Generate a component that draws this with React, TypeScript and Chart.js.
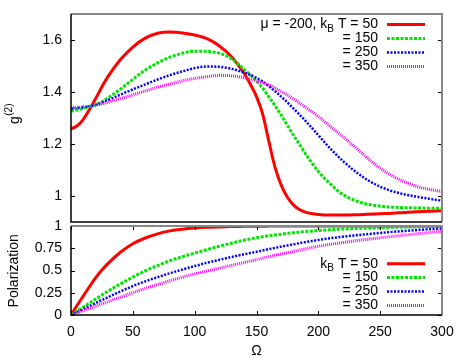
import React, { useEffect, useRef } from "react";
import { Chart, registerables } from "chart.js";
Chart.register(...registerables);

const omega = [0,5,10,15,20,25,30,40,50,60,70,80,90,100,110,120,130,140,145,150,155,160,165,170,175,180,185,190,200,210,220,230,240,250,260,270,280,290,300];

const g2T50 = [1.258,1.27,1.295,1.333,1.375,1.42,1.46,1.525,1.573,1.607,1.626,1.631,1.627,1.619,1.605,1.577,1.535,1.472,1.43,1.382,1.315,1.21,1.11,1.042,0.995,0.965,0.947,0.937,0.929,0.927,0.927,0.928,0.93,0.932,0.934,0.937,0.939,0.941,0.943];
const g2T150 = [1.327,1.331,1.337,1.344,1.352,1.362,1.378,1.411,1.449,1.484,1.512,1.534,1.549,1.557,1.556,1.549,1.527,1.487,1.466,1.442,1.415,1.381,1.347,1.311,1.272,1.233,1.197,1.16,1.094,1.045,1.005,0.982,0.968,0.961,0.957,0.955,0.954,0.953,0.953];
const g2T250 = [1.336,1.338,1.341,1.345,1.351,1.359,1.369,1.39,1.41,1.429,1.448,1.465,1.479,1.492,1.498,1.497,1.489,1.475,1.466,1.454,1.44,1.422,1.403,1.382,1.36,1.336,1.312,1.287,1.234,1.181,1.134,1.094,1.061,1.036,1.018,1.006,0.997,0.989,0.982];
const g2T350 = [1.34,1.341,1.343,1.345,1.349,1.354,1.36,1.375,1.389,1.404,1.418,1.431,1.443,1.452,1.459,1.464,1.462,1.455,1.45,1.443,1.436,1.427,1.415,1.402,1.388,1.373,1.357,1.34,1.306,1.266,1.228,1.187,1.145,1.107,1.077,1.054,1.036,1.025,1.017];

const polT50 = [0,0.11,0.215,0.32,0.42,0.505,0.58,0.705,0.8,0.865,0.912,0.945,0.964,0.977,0.985,0.99,0.994,0.996,0.997,0.998,0.998,0.999,0.999,0.999,0.999,0.999,1,1,1,1,1,1,1,1,1,1,1,1,1];
const polT150 = [0,0.045,0.09,0.135,0.18,0.224,0.268,0.35,0.425,0.495,0.555,0.61,0.655,0.695,0.735,0.773,0.808,0.84,0.855,0.868,0.88,0.892,0.9,0.908,0.917,0.925,0.932,0.938,0.95,0.958,0.966,0.972,0.977,0.981,0.985,0.988,0.991,0.994,0.996];
const polT250 = [0,0.034,0.067,0.1,0.135,0.168,0.2,0.265,0.325,0.378,0.425,0.47,0.51,0.55,0.587,0.62,0.652,0.682,0.696,0.71,0.725,0.74,0.754,0.768,0.782,0.795,0.808,0.82,0.843,0.863,0.88,0.895,0.909,0.922,0.934,0.945,0.955,0.964,0.972];
const polT350 = [0,0.025,0.05,0.075,0.1,0.125,0.15,0.2,0.25,0.298,0.343,0.385,0.425,0.461,0.495,0.527,0.558,0.59,0.606,0.622,0.638,0.654,0.67,0.686,0.701,0.716,0.731,0.745,0.772,0.795,0.815,0.834,0.851,0.867,0.883,0.898,0.912,0.926,0.94];

const temps = ["50", "150", "250", "350"];
const mu = "-200";
const xTicks = [0, 50, 100, 150, 200, 250, 300];
const g2Ticks = [1, 1.2, 1.4, 1.6];
const polTicks = [0, 0.25, 0.5, 0.75, 1];

const FONT = '"Liberation Sans", Arial, Helvetica, sans-serif';

const STYLES = [
  { color: "#ff0000", width: 3, dash: [] as number[] },
  { color: "#00e600", width: 3, dash: [3, 1.5] },
  { color: "#0000ff", width: 2.5, dash: [2, 1.5] },
  { color: "#ff00ff", width: 3, dash: [1, 1] },
];

type Part = { t: string; sub?: boolean };

function drawRich(ctx: CanvasRenderingContext2D, parts: Part[], rightX: number, y: number) {
  const widths = parts.map((p) => {
    ctx.font = `${p.sub ? 10 : 14}px ${FONT}`;
    return ctx.measureText(p.t).width;
  });
  let x = rightX - widths.reduce((a, b) => a + b, 0);
  ctx.textBaseline = "middle";
  ctx.textAlign = "left";
  parts.forEach((p, i) => {
    ctx.font = `${p.sub ? 10 : 14}px ${FONT}`;
    ctx.fillText(p.t, x, p.sub ? y + 5 : y);
    x += widths[i];
  });
}

function legendRows(withMu: boolean): Part[][] {
  return temps.map((t, i) => {
    if (i === 0) {
      const head: Part[] = withMu ? [{ t: `μ = ${mu}, k` }] : [{ t: "k" }];
      return [...head, { t: "B", sub: true }, { t: ` T = ${t}` }];
    }
    return [{ t: `= ${t}` }];
  });
}

function makeDecor(kind: "top" | "bottom") {
  return {
    id: "decor_" + kind,
    afterDraw(chart: any) {
      const { ctx, chartArea: a, scales } = chart;
      const xs = scales.x;
      const ys = scales.y;
      const yT = kind === "top" ? g2Ticks : polTicks;
      ctx.save();
      // inward tick marks
      ctx.strokeStyle = "#000";
      ctx.lineWidth = 1;
      ctx.beginPath();
      if (kind === "bottom") {
        for (const v of xTicks) {
          const px = Math.round(xs.getPixelForValue(v)) + 0.5;
          ctx.moveTo(px, a.bottom);
          ctx.lineTo(px, a.bottom - 4);
          ctx.moveTo(px, a.top);
          ctx.lineTo(px, a.top + 4);
        }
      }
      for (const v of yT) {
        const py = Math.round(ys.getPixelForValue(v)) + 0.5;
        ctx.moveTo(a.left, py);
        ctx.lineTo(a.left + 4, py);
        ctx.moveTo(a.right, py);
        ctx.lineTo(a.right - 4, py);
      }
      ctx.stroke();
      // frame
      ctx.strokeStyle = "#888";
      ctx.lineWidth = 2;
      ctx.beginPath();
      ctx.moveTo(a.left, a.top);
      ctx.lineTo(a.right, a.top);
      ctx.lineTo(a.right, a.bottom);
      ctx.stroke();
      ctx.strokeStyle = "#000";
      ctx.lineWidth = 1.5;
      ctx.beginPath();
      ctx.moveTo(a.left, a.top);
      ctx.lineTo(a.left, a.bottom);
      ctx.lineTo(a.right, a.bottom);
      ctx.stroke();

      // legend
      ctx.fillStyle = "#000";
      const rows = legendRows(kind === "top");
      const y0 = kind === "top" ? 24.5 : 45.7;
      const dy = kind === "top" ? 14 : 13.9;
      rows.forEach((parts, i) => {
        const y = y0 + i * dy;
        drawRich(ctx, parts, 378, y);
        const s = STYLES[i];
        ctx.strokeStyle = s.color;
        ctx.lineWidth = s.width;
        ctx.setLineDash(s.dash);
        ctx.beginPath();
        ctx.moveTo(387, y);
        ctx.lineTo(425, y);
        ctx.stroke();
        ctx.setLineDash([]);
      });

      // axis titles
      ctx.fillStyle = "#000";
      if (kind === "top") {
        ctx.save();
        ctx.translate(19, 124);
        ctx.rotate(-Math.PI / 2);
        ctx.textAlign = "left";
        ctx.textBaseline = "alphabetic";
        ctx.font = `14px ${FONT}`;
        ctx.fillText("g", 0, 0);
        const wg = ctx.measureText("g").width;
        ctx.font = `10px ${FONT}`;
        ctx.fillText("(2)", wg + 0.5, -7);
        ctx.restore();
      } else {
        ctx.save();
        ctx.translate(14, 52.8);
        ctx.rotate(-Math.PI / 2);
        ctx.textAlign = "center";
        ctx.textBaseline = "middle";
        ctx.font = `14px ${FONT}`;
        ctx.fillText("Polarization", 0, 0);
        ctx.restore();
        ctx.textAlign = "center";
        ctx.textBaseline = "middle";
        ctx.font = `14px ${FONT}`;
        ctx.fillText("Ω", 256.5, 133.5);
      }
      ctx.restore();
    },
  };
}

function makeConfig(kind: "top" | "bottom"): any {
  const series = kind === "top" ? [g2T50, g2T150, g2T250, g2T350] : [polT50, polT150, polT250, polT350];
  const yTicks = kind === "top" ? g2Ticks : polTicks;
  const isBottom = kind === "bottom";
  return {
    type: "line",
    data: {
      datasets: series.map((arr, i) => ({
        label: temps[i],
        data: omega.map((x, j) => ({ x, y: arr[j] })),
        borderColor: STYLES[i].color,
        borderWidth: STYLES[i].width,
        borderDash: STYLES[i].dash,
        borderCapStyle: "butt",
        pointRadius: 0,
        fill: false,
        cubicInterpolationMode: "monotone",
        order: 4 - i,
      })),
    },
    options: {
      responsive: false,
      maintainAspectRatio: false,
      animation: false,
      devicePixelRatio: 1,
      events: [],
      layout: {
        padding: isBottom ? { top: 8, right: 21, bottom: 0, left: 0 } : { top: 14, right: 21, bottom: 4, left: 0 },
      },
      plugins: { legend: { display: false }, tooltip: { enabled: false }, title: { display: false } },
      scales: {
        x: {
          type: "linear",
          min: 0,
          max: 300,
          display: isBottom,
          grid: { display: false, drawTicks: false },
          border: { display: false },
          ticks: {
            color: "#000",
            font: { family: FONT, size: 14 },
            padding: 9,
            maxRotation: 0,
            autoSkip: false,
            callback: (v: number) => String(v),
          },
          afterBuildTicks: (s: any) => {
            s.ticks = xTicks.map((v) => ({ value: v }));
          },
          afterFit: (s: any) => {
            s.height = isBottom ? 43 : 0;
            s.paddingLeft = 0;
            s.paddingRight = 0;
          },
        },
        y: {
          type: "linear",
          min: isBottom ? 0 : 0.9,
          max: isBottom ? 1 : 1.7,
          grid: { display: false, drawTicks: false },
          border: { display: false },
          ticks: {
            color: "#000",
            font: { family: FONT, size: 14 },
            padding: 9,
            callback: (v: number) => String(v),
          },
          afterBuildTicks: (s: any) => {
            s.ticks = yTicks.map((v) => ({ value: v }));
          },
          afterFit: (s: any) => {
            s.width = 71;
            s.paddingTop = 0;
            s.paddingBottom = 0;
          },
        },
      },
    },
    plugins: [makeDecor(kind)],
  };
}

export default function App() {
  const topRef = useRef<HTMLCanvasElement>(null);
  const botRef = useRef<HTMLCanvasElement>(null);
  useEffect(() => {
    const c1 = new Chart(topRef.current as HTMLCanvasElement, makeConfig("top"));
    const c2 = new Chart(botRef.current as HTMLCanvasElement, makeConfig("bottom"));
    return () => {
      c1.destroy();
      c2.destroy();
    };
  }, []);
  return (
    <div style={{ position: "absolute", left: 0, top: 0, width: 463, height: 358, background: "#fff" }}>
      <canvas ref={topRef} width={463} height={226} style={{ position: "absolute", left: 0, top: 0, width: 463, height: 226 }} />
      <canvas ref={botRef} width={463} height={140} style={{ position: "absolute", left: 0, top: 218, width: 463, height: 140 }} />
    </div>
  );
}
